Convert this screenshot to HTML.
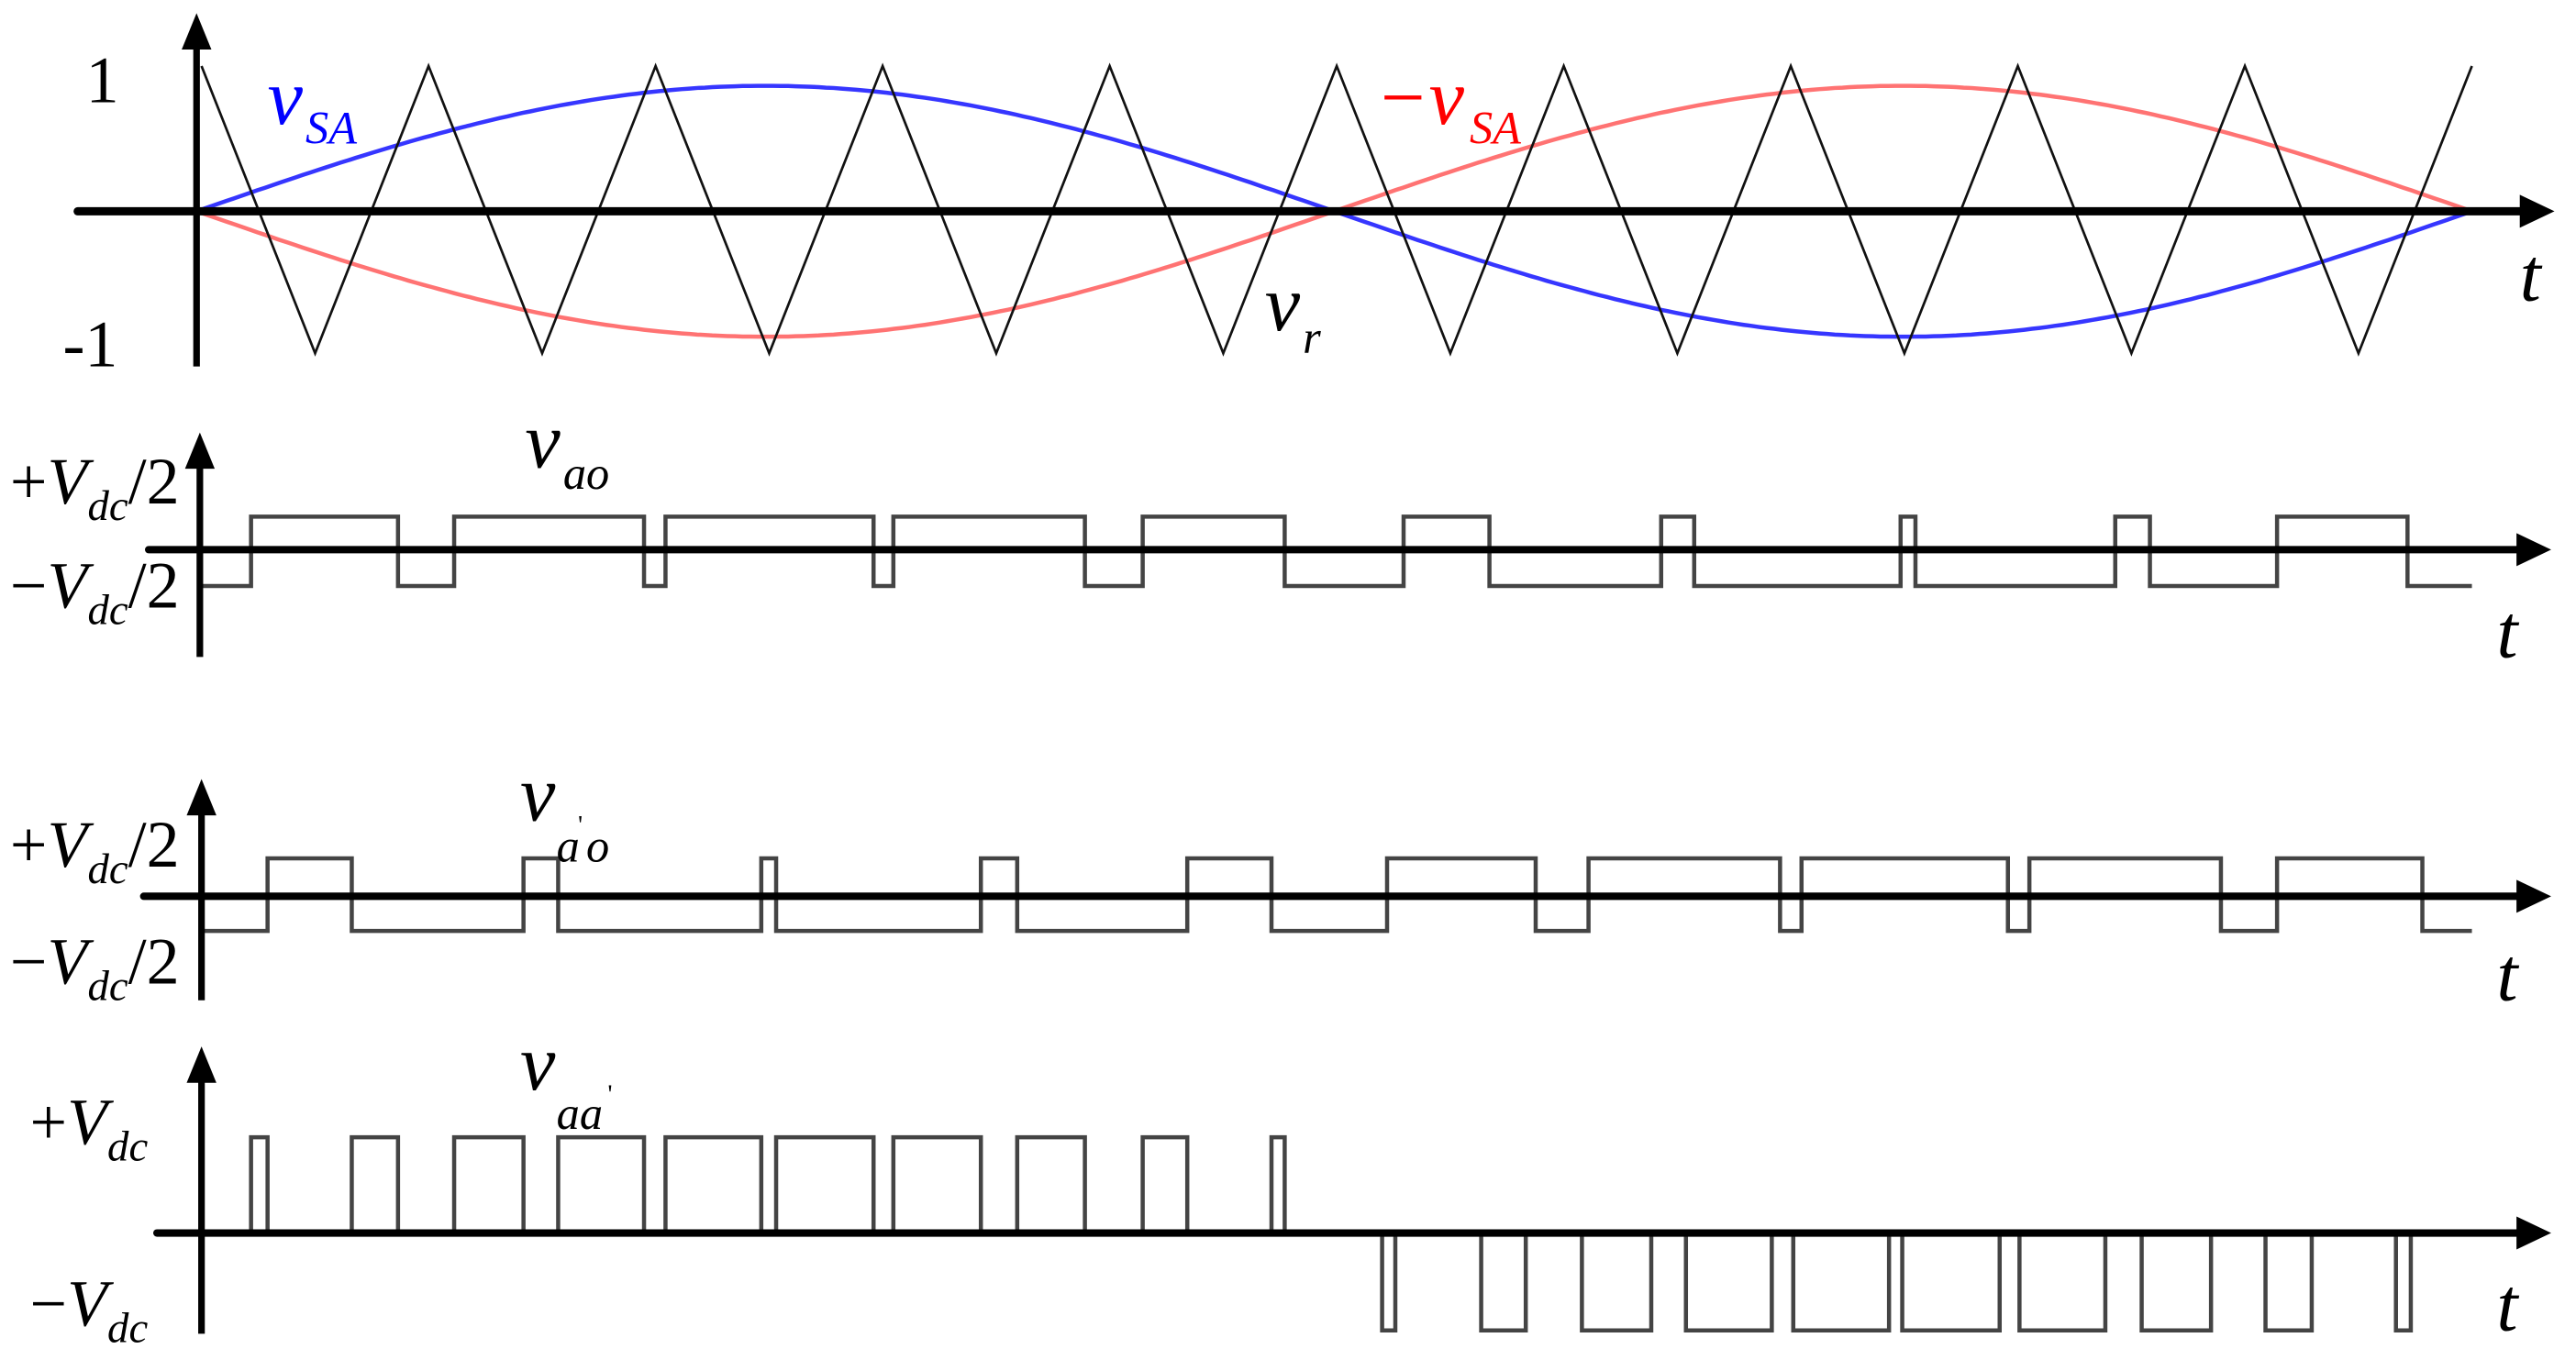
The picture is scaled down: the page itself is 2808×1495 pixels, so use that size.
<!DOCTYPE html>
<html><head><meta charset="utf-8"><style>
html,body{margin:0;padding:0;background:#fff;width:2808px;height:1495px;overflow:hidden}
svg{display:block}
text{font-family:"Liberation Serif",serif}
</style></head><body>
<svg width="2808" height="1495" viewBox="0 0 1560 830.6" xmlns="http://www.w3.org/2000/svg">
<g id="p1">
<path id="blue" fill="none" stroke="#2020ff" stroke-width="2.5" opacity="0.9" d=""/>
<path id="red" fill="none" stroke="#ff5a5a" stroke-width="2.5" opacity="0.85" d=""/>
<polyline id="tri" fill="none" stroke="#111" stroke-width="1.5" points=""/>
<line x1="119" y1="222" x2="119" y2="28" stroke="#000" stroke-width="4"/>
<polygon points="119,8 110,30 128,30" fill="#000"/>
<line x1="47" y1="128" x2="1528" y2="128" stroke="#000" stroke-width="5" stroke-linecap="round"/>
<polygon points="1547,128 1526,118 1526,138" fill="#000"/>
<text x="52" y="62" font-size="40">1</text>
<text x="38" y="222" font-size="40">-1</text>
<text x="162" y="75" font-size="48" font-style="italic" fill="#0000ff">v</text>
<text x="185" y="87" font-size="28" font-style="italic" fill="#0000ff">SA</text>
<text x="833" y="75" font-size="48" font-style="italic" fill="#ff0000">−v</text>
<text x="890" y="87" font-size="28" font-style="italic" fill="#ff0000">SA</text>
<text x="766" y="200" font-size="48" font-style="italic">v</text>
<text x="789" y="214" font-size="28" font-style="italic">r</text>
<text x="1526" y="182" font-size="46" font-style="italic">t</text>
</g>

<polyline fill="none" stroke="#444" stroke-width="2.5" points="121,355 152,355 152,313 241,313 241,355 275,355 275,313 390,313 390,355 403,355 403,313 529,313 529,355 541,355 541,313 657,313 657,355 692,355 692,313 778,313 778,355 850,355 850,313 902,313 902,355 1006,355 1006,313 1026,313 1026,355 1151,355 1151,313 1160,313 1160,355 1281,355 1281,313 1302,313 1302,355 1379,355 1379,313 1458,313 1458,355 1497,355"/>
<line x1="121" y1="398" x2="121" y2="280" stroke="#000" stroke-width="4"/>
<polygon points="121,262 112,284 130,284" fill="#000"/>
<line x1="90" y1="333" x2="1525" y2="333" stroke="#000" stroke-width="4.5" stroke-linecap="round"/>
<polygon points="1545,333 1524,323 1524,343" fill="#000"/>
<text x="6" y="305" font-size="40">+<tspan font-style="italic">V</tspan><tspan font-size="26" font-style="italic" dy="10">dc</tspan><tspan dy="-10">/2</tspan></text>
<text x="6" y="368" font-size="40">−<tspan font-style="italic">V</tspan><tspan font-size="26" font-style="italic" dy="10">dc</tspan><tspan dy="-10">/2</tspan></text>
<text x="318" y="283" font-size="48" font-style="italic">v</text>
<text x="341" y="296" font-size="28" font-style="italic">ao</text>
<text x="1512" y="398" font-size="46" font-style="italic">t</text>

<polyline fill="none" stroke="#444" stroke-width="2.5" points="122,564 162,564 162,520 213,520 213,564 317,564 317,520 338,520 338,564 461,564 461,520 470,520 470,564 594,564 594,520 616,520 616,564 719,564 719,520 770,520 770,564 840,564 840,520 930,520 930,564 962,564 962,520 1078,520 1078,564 1091,564 1091,520 1216,520 1216,564 1229,564 1229,520 1345,520 1345,564 1379,564 1379,520 1467,520 1467,564 1497,564"/>
<line x1="122" y1="606" x2="122" y2="490" stroke="#000" stroke-width="4"/>
<polygon points="122,472 113,494 131,494" fill="#000"/>
<line x1="87" y1="543" x2="1525" y2="543" stroke="#000" stroke-width="4.5" stroke-linecap="round"/>
<polygon points="1545,543 1524,533 1524,553" fill="#000"/>
<text x="6" y="525" font-size="40">+<tspan font-style="italic">V</tspan><tspan font-size="26" font-style="italic" dy="10">dc</tspan><tspan dy="-10">/2</tspan></text>
<text x="6" y="596" font-size="40">−<tspan font-style="italic">V</tspan><tspan font-size="26" font-style="italic" dy="10">dc</tspan><tspan dy="-10">/2</tspan></text>
<text x="315" y="497" font-size="48" font-style="italic">v</text>
<text x="337" y="522" font-size="28" font-style="italic">a</text>
<text x="350" y="505" font-size="16">'</text>
<text x="355" y="522" font-size="28" font-style="italic">o</text>
<text x="1512" y="606" font-size="46" font-style="italic">t</text>

<polyline fill="none" stroke="#444" stroke-width="2.5" points="122,747 152,747 152,689 162,689 162,747 213,747 213,689 241,689 241,747 275,747 275,689 317,689 317,747 338,747 338,689 390,689 390,747 403,747 403,689 461,689 461,747 470,747 470,689 529,689 529,747 541,747 541,689 594,689 594,747 616,747 616,689 657,689 657,747 692,747 692,689 719,689 719,747 770,747 770,689 778,689 778,747 837,747 837,806 845,806 845,747 897,747 897,806 924,806 924,747 958,747 958,806 1000,806 1000,747 1021,747 1021,806 1073,806 1073,747 1086,747 1086,806 1144,806 1144,747 1152,747 1152,806 1211,806 1211,747 1223,747 1223,806 1275,806 1275,747 1297,747 1297,806 1339,806 1339,747 1372,747 1372,806 1400,806 1400,747 1451,747 1451,806 1460,806 1460,747 1497,747"/>
<line x1="122" y1="808" x2="122" y2="652" stroke="#000" stroke-width="4"/>
<polygon points="122,634 113,656 131,656" fill="#000"/>
<line x1="95" y1="747" x2="1525" y2="747" stroke="#000" stroke-width="4.5" stroke-linecap="round"/>
<polygon points="1545,747 1524,737 1524,757" fill="#000"/>
<text x="18" y="693" font-size="40">+<tspan font-style="italic">V</tspan><tspan font-size="26" font-style="italic" dy="10">dc</tspan></text>
<text x="18" y="803" font-size="40">−<tspan font-style="italic">V</tspan><tspan font-size="26" font-style="italic" dy="10">dc</tspan></text>
<text x="315" y="660" font-size="48" font-style="italic">v</text>
<text x="337" y="684" font-size="28" font-style="italic">aa</text>
<text x="368" y="668" font-size="16">'</text>
<text x="1512" y="806" font-size="46" font-style="italic">t</text>

<script>
(function(){
  var b="",r="",t=[];
  for(var i=0;i<=300;i++){
    var x=119+i*(1497-119)/300;
    var y=76*Math.sin(Math.PI*(x-119)/689);
    b+=(i?"L":"M")+x.toFixed(1)+","+(128-y).toFixed(1);
    r+=(i?"L":"M")+x.toFixed(1)+","+(128+y).toFixed(1);
  }
  document.getElementById("blue").setAttribute("d",b);
  document.getElementById("red").setAttribute("d",r);
  for(var k=0;k<=20;k++){
    var x=122+k*68.75;
    t.push(x.toFixed(1)+","+(k%2?214:40));
  }
  document.getElementById("tri").setAttribute("points",t.join(" "));
})();
</script>
</svg>
</body></html>
